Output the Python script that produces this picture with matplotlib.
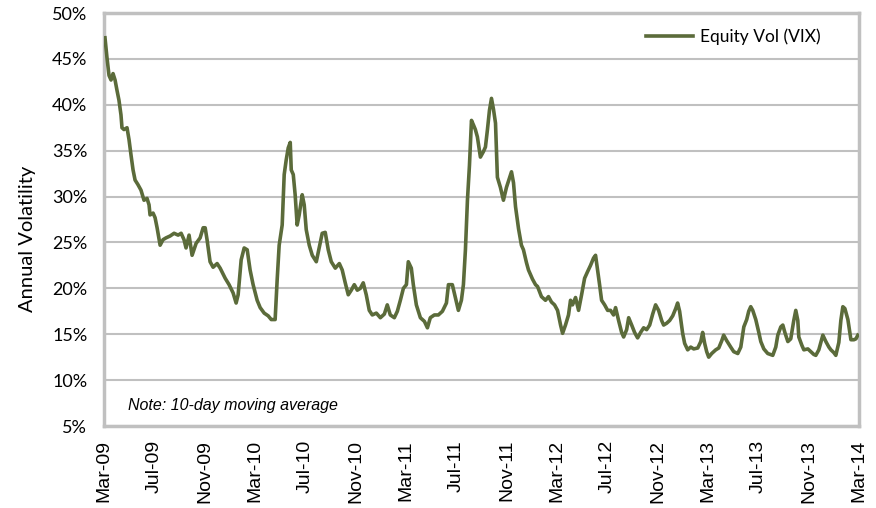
import matplotlib
matplotlib.use('Agg')
import matplotlib.pyplot as plt

# Data: 10-day moving average of VIX
# x = months since 1 Mar 2009
months = [0.08, 0.24, 0.40, 0.56, 0.72, 0.88, 1.03, 1.19, 1.35, 1.43, 1.59, 1.83, 1.99, 2.15, 2.31,
          2.47, 2.70, 2.94, 3.18, 3.42, 3.58, 3.66, 3.90, 4.06, 4.22, 4.46, 4.69, 4.93, 5.25, 5.57,
          5.89, 6.13, 6.36, 6.52, 6.76, 7.00, 7.32, 7.64, 7.88, 8.04, 8.19, 8.43, 8.67, 8.99, 9.23,
          9.63, 9.94, 10.26, 10.50, 10.66, 10.90, 11.14, 11.38, 11.61, 11.85, 12.17, 12.41, 12.73,
          13.05, 13.29, 13.60, 13.76, 13.92, 14.16, 14.32, 14.48, 14.64, 14.80, 14.88, 15.04, 15.19,
          15.35, 15.51, 15.75, 15.91, 16.07, 16.31, 16.55, 16.87, 17.10, 17.34, 17.58, 17.82, 18.06,
          18.38, 18.70, 18.93, 19.17, 19.41, 19.65, 19.89, 20.13, 20.37, 20.60, 20.84, 21.08, 21.32,
          21.64, 21.96, 22.28, 22.51, 22.75, 23.07, 23.31, 23.55, 23.79, 24.03, 24.18, 24.42, 24.58,
          24.82, 25.14, 25.46, 25.70, 25.93, 26.25, 26.57, 26.89, 27.21, 27.37, 27.68, 27.92, 28.16,
          28.40, 28.56, 28.72, 28.88, 29.04, 29.20, 29.36, 29.51, 29.67, 29.91, 30.15, 30.31, 30.47,
          30.63, 30.79, 30.95, 31.11, 31.26, 31.50, 31.74, 31.98, 32.22, 32.38, 32.54, 32.70, 32.94,
          33.17, 33.33, 33.57, 33.73, 34.05, 34.29, 34.45, 34.76, 35.08, 35.32, 35.56, 35.80, 36.04,
          36.28, 36.44, 36.67, 36.91, 37.07, 37.23, 37.47, 37.71, 37.95, 38.19, 38.42, 38.66, 38.90,
          39.06, 39.22, 39.38, 39.54, 39.78, 40.02, 40.25, 40.49, 40.65, 40.89, 41.13, 41.29, 41.53,
          41.69, 41.93, 42.16, 42.40, 42.64, 42.88, 43.12, 43.36, 43.60, 43.83, 44.07, 44.31, 44.47,
          44.71, 44.95, 45.19, 45.43, 45.58, 45.74, 45.98, 46.14, 46.38, 46.62, 46.86, 47.18, 47.42,
          47.57, 47.73, 47.89, 48.05, 48.29, 48.61, 48.85, 49.09, 49.24, 49.48, 49.80, 50.04, 50.36,
          50.60, 50.84, 51.07, 51.23, 51.39, 51.55, 51.79, 52.03, 52.19, 52.43, 52.74, 53.14, 53.38,
          53.54, 53.78, 53.94, 54.10, 54.34, 54.57, 54.81, 54.97, 55.13, 55.21, 55.45, 55.61, 55.93,
          56.17, 56.40, 56.56, 56.80, 57.12, 57.36, 57.60, 57.76, 57.99, 58.15, 58.39, 58.55, 58.71,
          58.87, 59.11, 59.35, 59.59, 59.75, 59.90]
vix = [47.3, 45.1, 43.2, 42.7, 43.4, 42.7, 41.6, 40.5, 38.9, 37.5, 37.3, 37.5, 36.2, 34.5, 32.9,
       31.8, 31.3, 30.7, 29.6, 29.8, 29.1, 28.0, 28.2, 27.7, 26.6, 24.7, 25.3, 25.5, 25.7, 26.0,
       25.8, 26.0, 25.3, 24.4, 25.8, 23.6, 24.9, 25.5, 26.6, 26.6, 25.3, 22.9, 22.3, 22.7, 22.2,
       21.1, 20.4, 19.5, 18.4, 19.3, 23.1, 24.4, 24.2, 22.0, 20.4, 18.7, 17.9, 17.3,
       17.0, 16.6, 16.6, 20.9, 24.7, 26.9, 32.4, 34.0, 35.3, 35.9, 32.9, 32.4, 30.2,
       26.9, 28.0, 30.2, 29.1, 26.4, 24.7, 23.6, 22.9, 24.4, 26.0, 26.1, 24.2, 22.9,
       22.2, 22.7, 22.0, 20.6, 19.3, 19.8, 20.4, 19.8, 20.0, 20.6, 19.3, 17.6, 17.1,
       17.3, 16.8, 17.2, 18.2, 17.1, 16.8, 17.5, 18.7, 20.0, 20.4, 22.9, 22.2, 20.4,
       18.2, 16.8, 16.4, 15.7, 16.8, 17.1, 17.1, 17.5, 18.4, 20.4, 20.4, 19.0, 17.6,
       18.7, 20.4, 24.2, 29.6, 33.4, 38.3, 37.8, 37.3, 36.5, 34.3, 34.9, 35.4, 37.3,
       39.4, 40.7, 39.5, 38.0, 32.1, 31.0, 29.6, 31.0, 32.0, 32.7, 31.5, 28.9, 26.5,
       24.7, 24.2, 22.8, 22.0, 21.0, 20.4, 20.2, 19.1, 18.7, 19.1, 18.5, 18.2, 17.6,
       16.0, 15.1, 16.0, 17.1, 18.7, 18.2, 19.0, 17.6, 19.3, 21.1, 21.8, 22.5, 23.3,
       23.6, 22.0, 20.4, 18.7, 18.2, 17.6, 17.6, 17.1, 17.9, 16.5, 15.2, 14.7, 15.5,
       16.8, 16.0, 15.2, 14.6, 15.2, 15.7, 15.5, 16.0, 17.2, 18.2, 17.6, 16.5, 16.0,
       16.2, 16.5, 17.0, 17.8, 18.4, 17.5, 15.1, 14.0, 13.3, 13.6, 13.4, 13.5, 14.2,
       15.2, 14.0, 13.1, 12.5, 12.9, 13.3, 13.5, 14.3, 14.9, 14.3, 13.6, 13.1, 12.9,
       13.6, 15.8, 16.6, 17.5, 18.0, 17.6, 16.6, 15.2, 14.2, 13.4, 12.9, 12.7, 13.6,
       14.9, 15.8, 16.0, 15.2, 14.2, 14.5, 16.5, 17.6, 16.5, 14.7, 13.8, 13.3, 13.4,
       13.1, 12.8, 12.7, 13.3, 14.9, 14.2, 13.6, 13.3, 13.0, 12.7, 14.1, 16.5, 18.0,
       17.8, 16.6, 14.4, 14.4, 14.5, 14.9]

tick_months = list(range(0, 61, 4))
tick_labels = ['Mar-09', 'Jul-09', 'Nov-09', 'Mar-10', 'Jul-10', 'Nov-10', 'Mar-11', 'Jul-11',
               'Nov-11', 'Mar-12', 'Jul-12', 'Nov-12', 'Mar-13', 'Jul-13', 'Nov-13', 'Mar-14']
y_ticks = list(range(5, 51, 5))

line_color = '#5b6b3a'
grey = '#c0c0c0'

fig = plt.figure(figsize=(8.76, 5.08), dpi=100)
ax = fig.add_axes([0.1187, 0.1614, 0.862, 0.813])

ax.plot(months, vix, color=line_color, lw=2.6, label='Equity Vol (VIX)', zorder=3)

ax.set_xlim(0, 60)
ax.set_ylim(5, 50)
ax.set_yticks(y_ticks)
ax.set_yticklabels([f'{v}%' for v in y_ticks], fontfamily='Lato', fontsize=13)
ax.set_xticks(tick_months)
ax.set_xticklabels(tick_labels, rotation=90, fontfamily='Liberation Sans', fontsize=14)
ax.tick_params(length=0)
ax.tick_params(axis='x', pad=10)
ax.tick_params(axis='y', pad=12)

# gridlines and frame
ax.grid(axis='y', color=grey, lw=1.5)
ax.set_axisbelow(True)
for s in ax.spines.values():
    s.set_color(grey)
    s.set_linewidth(2.5)

ax.set_ylabel('Annual Volatility', fontfamily='Lato', fontsize=14.5)
ax.yaxis.set_label_coords(-0.090, 0.453)

ax.text(1.9, 7.2, 'Note: 10-day moving average', style='italic', fontfamily='Liberation Sans',
        fontsize=11.5, va='center')

leg = ax.legend(loc='upper right', frameon=False, prop={'family': 'Lato', 'size': 12.5},
                handlelength=2.7, handletextpad=0.4, bbox_to_anchor=(0.97, 1.0))

fig.savefig('out.png', dpi=100)
